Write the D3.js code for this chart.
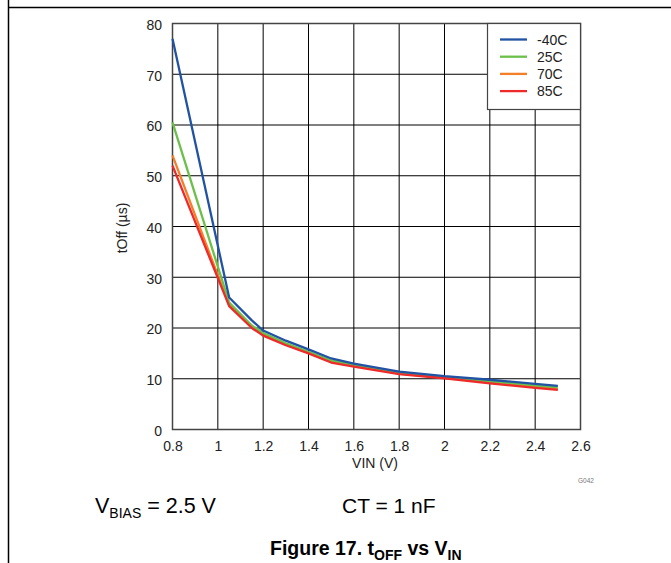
<!DOCTYPE html>
<html><head><meta charset="utf-8">
<script src="https://cdn.jsdelivr.net/npm/d3@7"></script>
<style>body{margin:0;background:#fff}svg{display:block}text{font-family:"Liberation Sans",Arial,sans-serif}</style>
</head><body>
<script>
const vin = [0.8, 1.05, 1.15, 1.2, 1.3, 1.4, 1.5, 1.6, 1.8, 2.0, 2.2, 2.4, 2.5];
const tM40 = [77, 26, 21.5, 19.5, 17.5, 15.8, 14, 13, 11.4, 10.5, 9.8, 9, 8.6];
const t25 = [60.5, 25, 20.5, 19, 17, 15.3, 13.6, 12.7, 11.1, 10.3, 9.5, 8.7, 8.3];
const t70 = [54, 24.5, 20.3, 18.8, 16.8, 15.1, 13.4, 12.6, 11, 10.2, 9.3, 8.4, 8];
const t85 = [52, 24.3, 20, 18.5, 16.6, 15, 13.2, 12.4, 10.9, 10.1, 9.1, 8.2, 7.8];
const seriesNames = ["-40C", "25C", "70C", "85C"];
const seriesColors = ["#2152a3", "#6cc04a", "#f57f27", "#ee2a2a"];
const xTicks = [0.8, 1, 1.2, 1.4, 1.6, 1.8, 2, 2.2, 2.4, 2.6];
const yTicks = [0, 10, 20, 30, 40, 50, 60, 70, 80];

const W = 671, H = 563;
const FONT = "Liberation Sans, Arial, sans-serif";
const svg = d3.select("body").append("svg").attr("width", W).attr("height", H);

// page frame lines
svg.append("line").attr("x1", 8.5).attr("x2", 8.5).attr("y1", 0).attr("y2", H).attr("stroke", "#000").attr("stroke-width", 1.5);
svg.append("line").attr("x1", 8).attr("x2", W).attr("y1", 7.5).attr("y2", 7.5).attr("stroke", "#000").attr("stroke-width", 1.5);

const x = d3.scaleLinear().domain([0.8, 2.6]).range([172.5, 580.5]);
const y = d3.scaleLinear().domain([0, 80]).range([429.5, 23.5]);

const g = svg.append("g");
// grid
g.selectAll(".vg").data(xTicks).enter().append("line")
  .attr("x1", d => x(d)).attr("x2", d => x(d)).attr("y1", y(0)).attr("y2", y(80))
  .attr("stroke", "#000").attr("stroke-width", 1);
g.selectAll(".hg").data(yTicks).enter().append("line")
  .attr("x1", x(0.8)).attr("x2", x(2.6)).attr("y1", d => y(d)).attr("y2", d => y(d))
  .attr("stroke", "#000").attr("stroke-width", 1);
// frame
g.append("rect").attr("x", x(0.8)).attr("y", y(80)).attr("width", x(2.6) - x(0.8)).attr("height", y(0) - y(80))
  .attr("fill", "none").attr("stroke", "#444").attr("stroke-width", 1.5);

// tick labels via d3 axes
const xAxis = d3.axisBottom(x).tickValues(xTicks).tickSize(0).tickPadding(12).tickFormat(d3.format("~g"));
const xa = svg.append("g").attr("transform", `translate(0,${y(0)})`).call(xAxis);
xa.select(".domain").remove();
xa.selectAll("text").attr("font-size", 14).attr("fill", "#222").attr("font-family", FONT);
const yAxis = d3.axisLeft(y).tickValues(yTicks).tickSize(0).tickPadding(10.5).tickFormat(d3.format("~g"));
const ya = svg.append("g").attr("transform", `translate(${x(0.8)},1.5)`).call(yAxis);
ya.select(".domain").remove();
ya.selectAll("text").attr("font-size", 14).attr("fill", "#222").attr("font-family", FONT);

// lines
const data = [tM40, t25, t70, t85];
const line = d3.line().x((d, i) => x(vin[i])).y(d => y(d));
const order = [2, 1, 3, 0];
order.forEach(k => {
  svg.append("path").datum(data[k]).attr("d", line).attr("fill", "none")
    .attr("stroke", seriesColors[k]).attr("stroke-width", 2.3).attr("stroke-linejoin", "round");
});

// legend
const lg = svg.append("g");
lg.append("rect").attr("x", 487.5).attr("y", 23.5).attr("width", 93).attr("height", 86)
  .attr("fill", "#fff").attr("stroke", "#444").attr("stroke-width", 1.2);
seriesNames.forEach((n, i) => {
  const yy = 39.5 + i * 17.2;
  lg.append("line").attr("x1", 500).attr("x2", 527).attr("y1", yy).attr("y2", yy)
    .attr("stroke", seriesColors[i]).attr("stroke-width", 2.3);
  lg.append("text").attr("x", 537).attr("y", yy + 5).attr("font-size", 14).attr("fill", "#222").text(n);
});

// axis titles
svg.append("text").attr("x", 375).attr("y", 468).attr("text-anchor", "middle").attr("font-size", 14).attr("fill", "#222").text("VIN (V)");
svg.append("text").attr("transform", "translate(127,228) rotate(-90)").attr("text-anchor", "middle")
  .attr("font-size", 14).attr("fill", "#222").text("tOff (µs)");
svg.append("text").attr("x", 578).attr("y", 483).attr("font-size", 6.5).attr("fill", "#777").text("G042");

// conditions
const c1 = svg.append("text").attr("x", 95).attr("y", 513).attr("font-size", 21.5).attr("fill", "#000");
c1.append("tspan").text("V");
c1.append("tspan").attr("font-size", 14).attr("dy", 4.5).text("BIAS");
c1.append("tspan").attr("dy", -4.5).text(" = 2.5 V");
svg.append("text").attr("x", 342).attr("y", 513).attr("font-size", 21).attr("fill", "#000").text("CT = 1 nF");

const t = svg.append("text").attr("x", 270).attr("y", 555).attr("font-size", 19.5)
  .attr("font-weight", "bold").attr("fill", "#000");
t.append("tspan").text("Figure 17. t");
t.append("tspan").attr("font-size", 14).attr("dy", 4.5).text("OFF");
t.append("tspan").attr("dy", -4.5).text(" vs V");
t.append("tspan").attr("font-size", 14).attr("dy", 4.5).text("IN");
</script>
</body></html>
